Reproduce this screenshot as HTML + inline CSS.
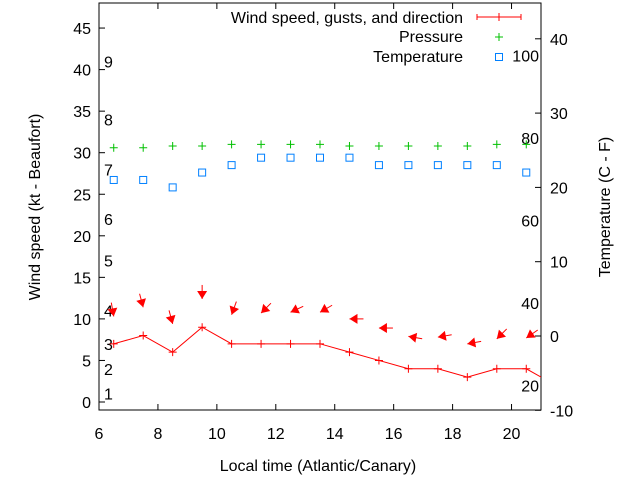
<!DOCTYPE html>
<html><head><meta charset="utf-8"><style>
body{margin:0;background:#fff}
svg{display:block;font-family:"Liberation Sans",sans-serif;font-size:16px}
</style></head><body>
<svg id="chart" width="640" height="480" viewBox="0 0 640 480" xmlns="http://www.w3.org/2000/svg"></svg>
<script>
const hours=[6.5,7.5,8.5,9.5,10.5,11.5,12.5,13.5,14.5,15.5,16.5,17.5,18.5,19.5,20.5,21.5];
const windSpeed=[7,8,6,9,7,7,7,7,6,5,4,4,3,4,4,2];
const arrowHours=[6.5,7.5,8.5,9.5,10.5,11.5,12.5,13.5,14.5,15.5,16.5,17.5,18.5,19.5,20.5];
const gusts=[10.3,11.4,9.4,12.4,10.5,10.7,10.8,10.8,10,8.9,7.9,7.8,7.0,7.6,7.7];
const windDir=[350,345,345,0,20,45,65,60,90,90,100,80,80,45,55];
const pressureHours=[6.5,7.5,8.5,9.5,10.5,11.5,12.5,13.5,14.5,15.5,16.5,17.5,18.5,19.5,20.5];
const pressure=[30.6,30.6,30.8,30.8,31.0,31.0,31.0,31.0,30.8,30.8,30.8,30.8,30.8,31.0,31.0];
const tempHours=[6.5,7.5,8.5,9.5,10.5,11.5,12.5,13.5,14.5,15.5,16.5,17.5,18.5,19.5,20.5];
const temperature=[21,21,20,22,23,24,24,24,24,23,23,23,23,23,22];
const xTicks=[6,8,10,12,14,16,18,20];
const yTicks=[0,5,10,15,20,25,30,35,40,45];
const y2Ticks=[-10,0,10,20,30,40];
const beaufort=[1,2,3,4,5,6,7,8,9];
const beaufortKt=[1,4,7,11,17,22,28,34,41];
const fahrenheit=[20,40,60,80,100];

const L=99,R=541,T=3,B=410;
const X=v=>L+(v-6)*(R-L)/15;
const Y=v=>402-v*8.31;
const Y2=c=>336-c*7.43;
const svg=document.getElementById('chart');
const NS='http://www.w3.org/2000/svg';
function mk(tag,attrs,parent){const e=document.createElementNS(NS,tag);for(const k in attrs)e.setAttribute(k,attrs[k]);(parent||svg).appendChild(e);return e;}
function txt(s,x,y,anchor,parent){const e=mk('text',{x:x,y:y,'text-anchor':anchor||'start',fill:'#000'},parent);e.textContent=s;return e;}

const defs=mk('defs',{});const cp=mk('clipPath',{id:'clip'},defs);mk('rect',{x:L,y:T,width:R-L,height:B-T},cp);

const frame=mk('rect',{x:L,y:T,width:R-L,height:B-T,fill:'none',stroke:'#000','stroke-width':1});



xTicks.forEach(v=>{
  const g=mk('g',{});
  
  
  mk('line',{x1:X(v),x2:X(v),y1:B,y2:B-6,stroke:'#000'},g);
  mk('line',{x1:X(v),x2:X(v),y1:T,y2:T+6,stroke:'#000'},g);
  txt(String(v),X(v),439,'middle',g);
});
yTicks.forEach(v=>{
  const g=mk('g',{});
  
  
  mk('line',{x1:L,x2:L+6,y1:Y(v),y2:Y(v),stroke:'#000'},g);
  txt(String(v),91,Y(v)+6,'end',g);
});
y2Ticks.forEach(v=>{
  const g=mk('g',{});
  
  
  mk('line',{x1:R,x2:R-6,y1:Y2(v),y2:Y2(v),stroke:'#000'},g);
  txt(String(v),550,Y2(v)+6,'start',g);
});
beaufort.forEach((b,i)=>{
  const t=txt(String(b),104,Y(beaufortKt[i])+6,'start');
  
  
});
fahrenheit.forEach(f=>{
  const t=txt(String(f),539,Y2((f-32)*5/9)+6,'end');
  
  
});

const xt=txt('Local time (Atlantic/Canary)',318,471,'middle');


const yt=txt('Wind speed (kt - Beaufort)',0,0,'middle');
yt.setAttribute('transform','translate(40,207) rotate(-90)');


const y2t=txt('Temperature (C - F)',0,0,'middle');
y2t.setAttribute('transform','translate(610,207) rotate(-90)');



const plot=mk('g',{'clip-path':'url(#clip)'});



const wl=mk('polyline',{points:hours.map((h,i)=>X(h)+','+Y(windSpeed[i])).join(' '),fill:'none',stroke:'#f00','stroke-width':1},plot);


hours.forEach((h,i)=>{
  const p=mk('path',{d:`M${X(h)-4},${Y(windSpeed[i])}h8M${X(h)},${Y(windSpeed[i])-4}v8`,stroke:'#f00'},plot);
  
  
});
arrowHours.forEach((h,i)=>{
  const hx=X(h),hy=Y(gusts[i]);
  const a=windDir[i]*Math.PI/180,len=14;
  const tx=hx+Math.sin(a)*len,ty=hy-Math.cos(a)*len;
  const ux=(hx-tx)/len,uy=(hy-ty)/len;
  const bx=hx-ux*8,by=hy-uy*8;
  const g=mk('g',{},plot);
  
  
  mk('line',{x1:tx,y1:ty,x2:hx,y2:hy,stroke:'#f00'},g);
  mk('polygon',{points:`${hx},${hy} ${bx-uy*5},${by+ux*5} ${bx+uy*5},${by-ux*5}`,fill:'#f00'},g);
});
pressureHours.forEach((h,i)=>{
  const x=X(h),y=Y(pressure[i]);
  const p=mk('path',{d:`M${x-4},${y}h8M${x},${y-4}v8`,stroke:'#00c000'},plot);
  
  
});
tempHours.forEach((h,i)=>{
  const x=X(h),y=Y2(temperature[i]);
  const r=mk('rect',{x:x-3.5,y:y-3.5,width:7,height:7,fill:'none',stroke:'#0080ff'},plot);
  
  
});

const lg=mk('g',{});


const e1=mk('g',{},lg);


txt('Wind speed, gusts, and direction',463,23,'end',e1);
mk('path',{d:'M477,17h44M477,14v6M521,14v6M499,13v8',stroke:'#f00'},e1);
const e2=mk('g',{},lg);


txt('Pressure',463,42,'end',e2);
mk('path',{d:'M495,37h8M499,33v8',stroke:'#00c000'},e2);
const e3=mk('g',{},lg);


txt('Temperature',463,62,'end',e3);
mk('rect',{x:495.5,y:53.5,width:7,height:7,fill:'none',stroke:'#0080ff'},e3);
</script>
</body></html>
